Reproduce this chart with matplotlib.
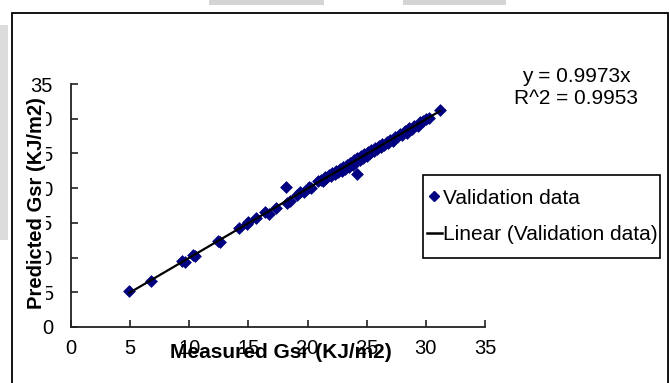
import matplotlib
matplotlib.use("Agg")
import matplotlib.pyplot as plt
from matplotlib.patches import Rectangle
from matplotlib.lines import Line2D

plt.rcParams['font.family'] = ['Liberation Sans', 'DejaVu Sans']

# ---- data ----
measured = [4.9, 6.8, 9.4, 9.6, 10.3, 10.5, 12.4, 12.6, 14.2, 14.9, 15.0, 15.6,
            16.4, 16.7, 17.3, 18.2, 18.3, 18.5, 19.1, 19.4, 19.7, 20.1, 20.3,
            20.9, 21.1, 21.3, 21.5, 21.6, 21.8, 22.0, 22.1, 22.3, 22.4, 22.6,
            22.7, 22.9, 23.0, 23.2, 23.3, 23.5, 23.6, 23.8, 23.9, 24.1, 24.2,
            24.2, 24.4, 24.5, 24.7, 24.8, 25.0, 25.1, 25.3, 25.4, 25.6, 25.7,
            25.9, 26.0, 26.2, 26.3, 26.5, 26.7, 26.8, 27.0, 27.2, 27.4, 27.6,
            27.8, 28.0, 28.2, 28.4, 28.6, 28.8, 29.0, 29.3, 29.5, 29.8, 30.0,
            30.3, 31.2]
predicted = [5.2, 6.6, 9.5, 9.3, 10.4, 10.2, 12.4, 12.2, 14.3, 14.9, 15.1, 15.7,
             16.6, 16.3, 17.2, 20.1, 17.8, 18.2, 19.0, 19.4, 19.5, 20.2, 20.0,
             21.0, 21.2, 21.0, 21.6, 21.4, 21.9, 21.7, 22.2, 22.0, 22.5, 22.3,
             22.8, 22.5, 23.1, 22.8, 23.4, 23.1, 23.6, 23.4, 24.0, 23.7, 24.3,
             22.0, 24.0, 24.6, 24.4, 24.9, 24.7, 25.2, 25.0, 25.5, 25.3, 25.8,
             25.6, 26.1, 25.9, 26.4, 26.2, 26.7, 26.5, 27.0, 26.8, 27.3, 27.3,
             27.8, 27.7, 28.2, 28.0, 28.6, 28.5, 29.0, 29.0, 29.5, 29.6, 30.0,
             30.1, 31.3]
slope = 0.9973
r2 = 0.9953
ticks = [0, 5, 10, 15, 20, 25, 30, 35]
series_label = "Validation data"
trend_label = "Linear (Validation data)"
xlabel = "Measured Gsr (KJ/m2)"
ylabel = "Predicted Gsr (KJ/m2)"

W, H = 669, 383
fig = plt.figure(figsize=(W / 100, H / 100), dpi=100)

# decorative background / frame
fig.patches.append(Rectangle((0, 1 - 240 / H), 8 / W, 215 / H, transform=fig.transFigure,
                             facecolor='#dcdcdc', edgecolor='none', zorder=-2))
fig.patches.append(Rectangle((209 / W, 1 - 5 / H), 115 / W, 5 / H, transform=fig.transFigure,
                             facecolor='#d4d4d4', edgecolor='none', zorder=-2))
fig.patches.append(Rectangle((403 / W, 1 - 5 / H), 103 / W, 5 / H, transform=fig.transFigure,
                             facecolor='#d4d4d4', edgecolor='none', zorder=-2))
fig.patches.append(Rectangle((11.5 / W, -0.05), (667.5 - 11.5) / W, 1.05 - 13.5 / H,
                             transform=fig.transFigure, facecolor='none',
                             edgecolor='black', linewidth=1.3, zorder=-1))
# legend frame
fig.patches.append(Rectangle((423 / W, 1 - 258 / H), (660 - 423) / W, (258 - 175) / H,
                             transform=fig.transFigure, facecolor='white',
                             edgecolor='black', linewidth=1.2, zorder=-1))

x0, x1 = 71, 485
ytop, ybot = 84, 327
ax = fig.add_axes([x0 / W, 1 - ybot / H, (x1 - x0) / W, (ybot - ytop) / H])
ax.patch.set_alpha(0)

ax.scatter(measured, predicted, marker='D', s=36, color='#000080',
           edgecolors='#000080', linewidths=0.5, zorder=3)
xs = [min(measured), max(measured)]
ax.plot(xs, [slope * v for v in xs], color='black', linewidth=1.6, zorder=4)

ax.set_xlim(0, 35)
ax.set_ylim(0, 35)
ax.set_xticks(ticks)
ax.set_yticks(ticks)
ax.set_xticklabels([str(t) for t in ticks])
ax.set_yticklabels([str(t) for t in ticks])
for s in ['top', 'right']:
    ax.spines[s].set_visible(False)
for s in ['left', 'bottom']:
    ax.spines[s].set_color('#222222')
    ax.spines[s].set_linewidth(1.3)
ax.tick_params(axis='both', direction='in', length=5, width=1.2, color='#222222',
               labelsize=14.5)
ax.tick_params(axis='x', pad=9)
ax.tick_params(axis='y', pad=13)

ax.set_xlabel(xlabel, fontsize=15, fontweight='bold')
ax.xaxis.set_label_coords(0.507, -0.066)
ax.set_ylabel(ylabel, fontsize=14.5, fontweight='bold',
              bbox=dict(facecolor='white', edgecolor='none', pad=0))
ax.yaxis.set_label_coords(-0.060, 0.508)

fig.text(576.5 / W, 1 - 77 / H, f"y = {slope}x", ha='center', va='center', fontsize=15)
fig.text(576.5 / W, 1 - 98 / H, f"R^2 = {r2}", ha='center', va='center', fontsize=15)

handles = [Line2D([], [], marker='D', linestyle='none', color='#000080', markersize=5.5),
           Line2D([], [], color='black', linewidth=1.8)]
leg = fig.legend(handles, [series_label, trend_label], loc='center left',
                 bbox_to_anchor=(427 / W, 1 - 216.5 / H), bbox_transform=fig.transFigure,
                 fontsize=15, frameon=False,
                 handlelength=0.7, handletextpad=0.05, borderpad=0,
                 labelspacing=0.85, borderaxespad=0)

fig.savefig("out.png", dpi=100)
